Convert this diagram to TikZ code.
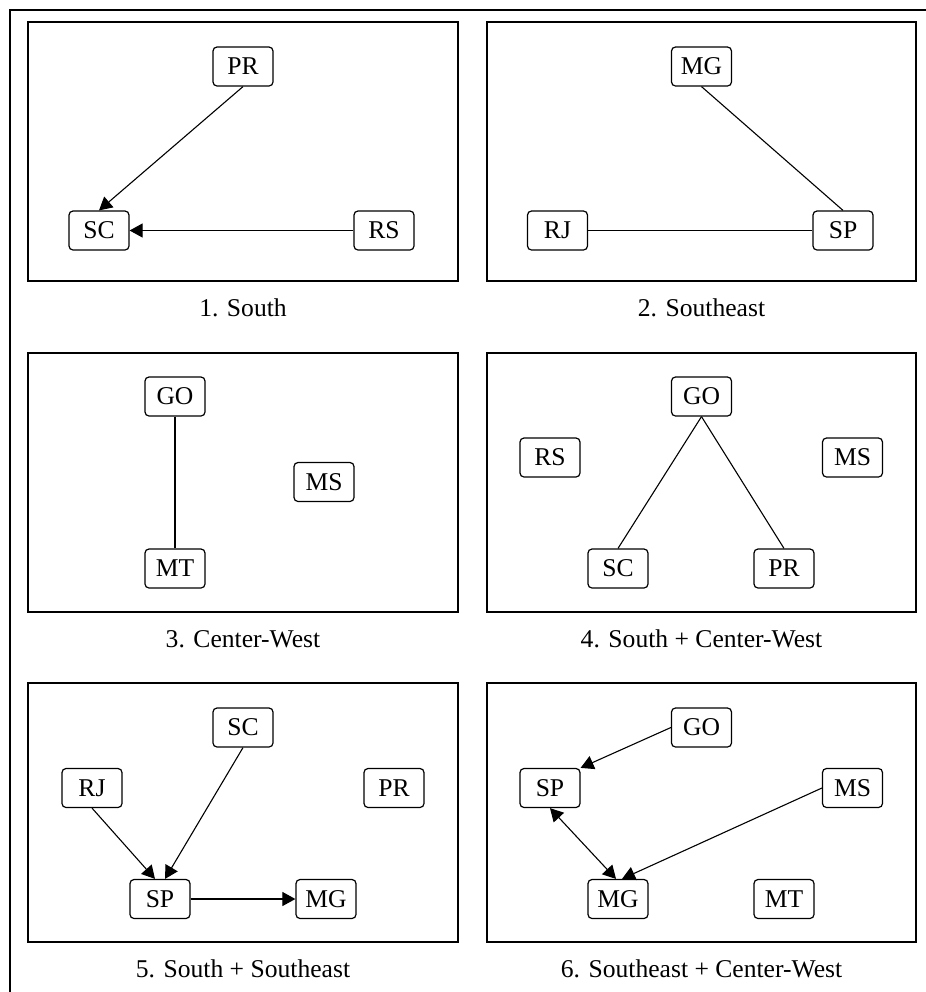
\documentclass[tikz,border=0pt]{standalone}
\usepackage{fontspec}
\setmainfont{Liberation Serif}
\usetikzlibrary{arrows.meta}

\begin{document}
\begin{tikzpicture}[x=0.5pt,y=-0.5pt,
	font=\fontsize{12.8}{15}\selectfont,
	statebox/.style={draw,rounded corners=2pt,line width=0.6pt,minimum width=30pt,minimum height=19.5pt,inner sep=0pt,text height=8.4pt,text depth=0pt},
	panel/.style={draw,line width=0.75pt},
	edgeline/.style={line width=0.55pt},
	edgearrow/.style={edgeline,-{Triangle[length=6.5pt,width=7pt]}},
	edgeboth/.style={edgeline,{Triangle[length=6.5pt,width=7pt]}-{Triangle[length=6.5pt,width=7pt]}},
	paneltitle/.style={anchor=base}]
	\useasboundingbox (0,0) rectangle (926,992);
	\draw[panel] (10,992) -- (10,10) -- (926,10);

	\draw[panel] (28,22) rectangle (458,281);
	\node[statebox] (PRa) at (243,66.5) {PR};
	\node[statebox] (SCa) at (99,230.5) {SC};
	\node[statebox] (RSa) at (384,230.5) {RS};
	\draw[edgearrow] (PRa.south) -- (SCa.north);
	\draw[edgearrow] (RSa.west) -- (SCa.east);
	\node[paneltitle] (titlea) at (243,316) {1. South};

	\draw[panel] (487,22) rectangle (916,281);
	\node[statebox] (MGb) at (701.5,66.5) {MG};
	\node[statebox] (RJb) at (557.5,230.5) {RJ};
	\node[statebox] (SPb) at (843,230.5) {SP};
	\draw[edgeline] (MGb.south) -- (SPb.north);
	\draw[edgeline] (RJb.east) -- (SPb.west);
	\node[paneltitle] (titleb) at (701.5,316) {2. Southeast};

	\draw[panel] (28,353) rectangle (458,612);
	\node[statebox] (GOc) at (175,396.5) {GO};
	\node[statebox] (MSc) at (324,482) {MS};
	\node[statebox] (MTc) at (175,568.5) {MT};
	\draw[edgeline] (GOc.south) -- (MTc.north);
	\node[paneltitle] (titlec) at (243,647) {3. Center-West};

	\draw[panel] (487,353) rectangle (916,612);
	\node[statebox] (GOd) at (701.5,396.5) {GO};
	\node[statebox] (RSd) at (550,457.5) {RS};
	\node[statebox] (MSd) at (852.5,457.5) {MS};
	\node[statebox] (SCd) at (618,568.5) {SC};
	\node[statebox] (PRd) at (784,568.5) {PR};
	\draw[edgeline] (GOd.south) -- (SCd.north);
	\draw[edgeline] (GOd.south) -- (PRd.north);
	\node[paneltitle] (titled) at (701.5,647) {4. South + Center-West};

	\draw[panel] (28,683) rectangle (458,942);
	\node[statebox] (SCe) at (243,727.5) {SC};
	\node[statebox] (RJe) at (92,788) {RJ};
	\node[statebox] (PRe) at (394,788) {PR};
	\node[statebox] (SPe) at (160,899) {SP};
	\node[statebox] (MGe) at (326,899) {MG};
	\draw[edgearrow] (RJe.south) -- ([xshift=-2.5pt]SPe.north);
	\draw[edgearrow] (SCe.south) -- ([xshift=2.5pt]SPe.north);
	\draw[edgearrow] (SPe.east) -- (MGe.west);
	\node[paneltitle] (titlee) at (243,977) {5. South + Southeast};

	\draw[panel] (487,683) rectangle (916,942);
	\node[statebox] (GOf) at (701.5,727.5) {GO};
	\node[statebox] (SPf) at (550,788) {SP};
	\node[statebox] (MSf) at (852.5,788) {MS};
	\node[statebox] (MGf) at (618,899) {MG};
	\node[statebox] (MTf) at (784,899) {MT};
	\draw[edgearrow] (GOf.west) -- (SPf.north east);
	\draw[edgearrow] (MSf.west) -- ([xshift=2pt]MGf.north);
	\draw[edgeboth] (SPf.south) -- ([xshift=-1pt]MGf.north);
	\node[paneltitle] (titlef) at (701.5,977) {6. Southeast + Center-West};
\end{tikzpicture}
\end{document}
